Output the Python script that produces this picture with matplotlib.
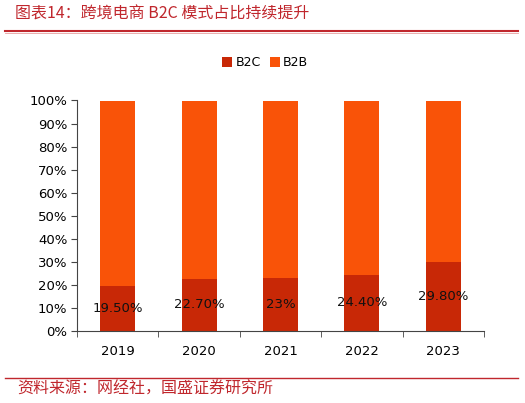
import matplotlib
matplotlib.use("Agg")
import matplotlib.pyplot as plt
from matplotlib.lines import Line2D

years = ["2019", "2020", "2021", "2022", "2023"]
b2c = [19.5, 22.7, 23.0, 24.4, 29.8]
b2c_labels = ["19.50%", "22.70%", "23%", "24.40%", "29.80%"]
b2b = [100 - v for v in b2c]
yticks = [0, 10, 20, 30, 40, 50, 60, 70, 80, 90, 100]

plt.rcParams['font.family'] = ['DejaVu Sans', 'Noto Sans CJK SC']

fig = plt.figure(figsize=(5.25, 4.03), dpi=100)
ax = fig.add_axes([77/525, 1-331/403, (484-77)/525, (331-100.5)/403])

c_b2c = "#C82806"
c_b2b = "#F95308"
x = range(len(years))
bars_c = ax.bar(x, b2c, width=0.43, color=c_b2c, label="B2C")
ax.bar(x, b2b, width=0.43, bottom=b2c, color=c_b2b, label="B2B")
ax.bar_label(bars_c, labels=b2c_labels, label_type='center', fontsize=9.5, color="#111111")

ax.set_xlim(-0.5, len(years) - 0.5)
ax.set_ylim(0, 100)
ax.set_yticks(yticks)
ax.set_yticklabels([f"{t}%" for t in yticks], fontsize=9.5)
ax.set_xticks(list(x))
ax.set_xticklabels(years, fontsize=9.5)
ax.set_xticks([i - 0.5 for i in range(len(years) + 1)], minor=True)
ax.tick_params(axis='x', which='major', length=0, pad=10)
ax.tick_params(axis='x', which='minor', length=4, direction='out', color="#444444")
ax.tick_params(axis='y', length=4, color="#444444", pad=3)
for s in ['top', 'right']:
    ax.spines[s].set_visible(False)
ax.spines['left'].set_color("#444444")
ax.spines['bottom'].set_color("#444444")

fig.legend(loc='center', bbox_to_anchor=(0.505, 1-63/403), ncol=2, frameon=False,
           fontsize=9, handlelength=0.8, handleheight=0.8, handletextpad=0.25,
           columnspacing=0.7)

red = "#C0272D"
fig.add_artist(Line2D([5/525, 518/525], [1-31/403, 1-31/403], color=red, lw=1.5))
fig.add_artist(Line2D([5/525, 518/525], [1-31.5/403 - 0.004, 1-31.5/403 - 0.004], color="#E8A0A0", lw=0.6))
fig.add_artist(Line2D([5/525, 518/525], [1-378/403, 1-378/403], color=red, lw=1.0))

fig.text(15/525, 1-14/403, "图表14：跨境电商 B2C 模式占比持续提升", fontsize=11.5, color=red,
         style='italic', va='center', ha='left', family=['Noto Sans CJK SC', 'DejaVu Sans'])
fig.text(17/525, 1-389/403, "资料来源：网经社，国盛证券研究所", fontsize=11.5, color=red,
         style='italic', va='center', ha='left', family=['Noto Sans CJK SC', 'DejaVu Sans'])

fig.savefig("out.png", dpi=100)
